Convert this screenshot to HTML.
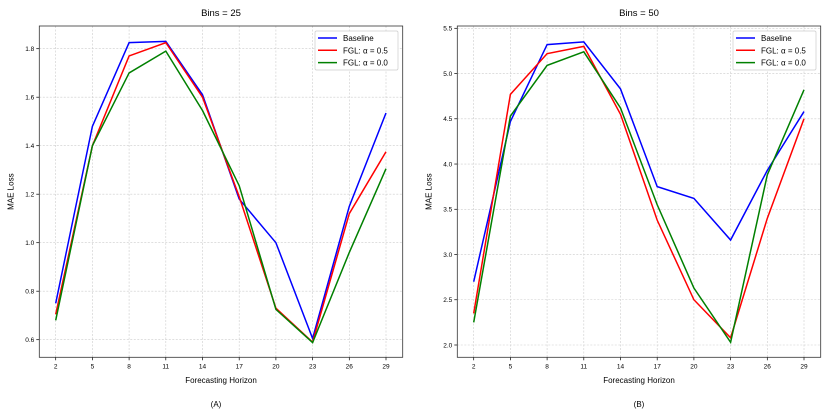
<!DOCTYPE html>
<html><head><meta charset="utf-8"><style>
body{margin:0;background:#fff;font-family:"Liberation Sans",sans-serif}
svg text{font-family:"Liberation Sans",sans-serif;fill:#000}
</style></head><body>
<svg id="c" width="830" height="415"></svg>
<script>
const xCats=[2,5,8,11,14,17,20,23,26,29];
const seriesNames=["Baseline","FGL: α = 0.5","FGL: α = 0.0"];
const colors=["#0000ff","#ff0000","#008000"];
const aBase=[0.75,1.48,1.825,1.83,1.61,1.18,1.0,0.605,1.15,1.535];
const aF05=[0.705,1.40,1.77,1.825,1.60,1.19,0.73,0.59,1.12,1.375];
const aF00=[0.68,1.40,1.70,1.79,1.545,1.235,0.725,0.588,0.96,1.305];
const bBase=[2.70,4.47,5.32,5.35,4.83,3.75,3.62,3.16,3.93,4.58];
const bF05=[2.35,4.77,5.22,5.30,4.55,3.38,2.50,2.08,3.40,4.50];
const bF00=[2.25,4.53,5.09,5.24,4.62,3.55,2.63,2.03,3.88,4.82];
const aTicks=[0.6,0.8,1.0,1.2,1.4,1.6,1.8];
const bTicks=[2.0,2.5,3.0,3.5,4.0,4.5,5.0,5.5];
const NS="http://www.w3.org/2000/svg";
const svg=document.getElementById('c');
function mk(t,a,p){const e=document.createElementNS(NS,t);for(const k in a)e.setAttribute(k,a[k]);(p||svg).appendChild(e);return e;}
function panel(o){
  const g=mk('g',{});
  
  
  const X=v=>o.x0+(v-2)/(27)*(o.x1-o.x0);
  const Y=v=>o.y0+(v-o.v0)/(o.v1-o.v0)*(o.y1-o.y0);
  const cx=(o.L+o.R)/2;
  // grid
  xCats.forEach(c=>{const l=mk('line',{x1:X(c),x2:X(c),y1:o.T,y2:o.B,stroke:'#ccc','stroke-width':0.6,'stroke-dasharray':'2,1.5'},g);
    
    mk('line',{x1:X(c),x2:X(c),y1:o.B,y2:o.B+3,stroke:'#000','stroke-width':0.7},g);
    const t=mk('text',{x:X(c),y:o.B+11,'font-size':6.5,'text-anchor':'middle'},g);t.textContent=c;
    });
  o.ticks.forEach(v=>{const l=mk('line',{x1:o.L,x2:o.R,y1:Y(v),y2:Y(v),stroke:'#ccc','stroke-width':0.6,'stroke-dasharray':'2,1.5'},g);
    
    mk('line',{x1:o.L-3,x2:o.L,y1:Y(v),y2:Y(v),stroke:'#000','stroke-width':0.7},g);
    const t=mk('text',{x:o.L-5,y:Y(v)+2.3,'font-size':6.5,'text-anchor':'end'},g);t.textContent=v.toFixed(1);
    });
  o.data.forEach((d,i)=>{const p=mk('polyline',{points:d.map((v,j)=>X(xCats[j])+','+Y(v)).join(' '),fill:'none',stroke:colors[i],'stroke-width':1.5},g);
    });
  const fr=mk('rect',{x:o.L,y:o.T,width:o.R-o.L,height:o.B-o.T,fill:'none',stroke:'#333','stroke-width':0.8},g);
  
  let t=mk('text',{x:cx,y:16,'font-size':9.5,'text-anchor':'middle'},g);t.textContent=o.title;
  
  t=mk('text',{x:cx,y:383,'font-size':8,'text-anchor':'middle'},g);t.textContent='Forecasting Horizon';
  
  t=mk('text',{x:o.L-26,y:(o.T+o.B)/2,'font-size':8,'text-anchor':'middle',transform:`rotate(-90 ${o.L-26} ${(o.T+o.B)/2})`},g);t.textContent='MAE Loss';
  
  t=mk('text',{x:cx-(o.name==='panel-a'?5:0),y:407,'font-size':8,'text-anchor':'middle'},g);t.textContent=o.cap;
  
  const lg=mk('g',{},g);
  mk('rect',{x:o.lx,y:31,width:83,height:39,fill:'#fff',stroke:'#ccc','stroke-width':0.7,rx:1.5},lg);
  seriesNames.forEach((n,i)=>{const y=38+i*12.3;
    mk('line',{x1:o.lx+3,x2:o.lx+22,y1:y,y2:y,stroke:colors[i],'stroke-width':1.5},lg);
    const e=mk('text',{x:o.lx+28,y:y+3,'font-size':8},lg);e.textContent=n;
    });
}
panel({name:'panel-a',L:39.3,R:402.7,T:26,B:357.3,x0:55.7,x1:386,y0:339.7,y1:48.7,v0:0.6,v1:1.8,ticks:aTicks,data:[aBase,aF05,aF00],title:'Bins = 25',cap:'(A)',lx:315});
panel({name:'panel-b',L:457.3,R:820.7,T:26,B:357.3,x0:473.7,x1:804,y0:345,y1:28.3,v0:2.0,v1:5.5,ticks:bTicks,data:[bBase,bF05,bF00],title:'Bins = 50',cap:'(B)',lx:733});
</script>
</body></html>
